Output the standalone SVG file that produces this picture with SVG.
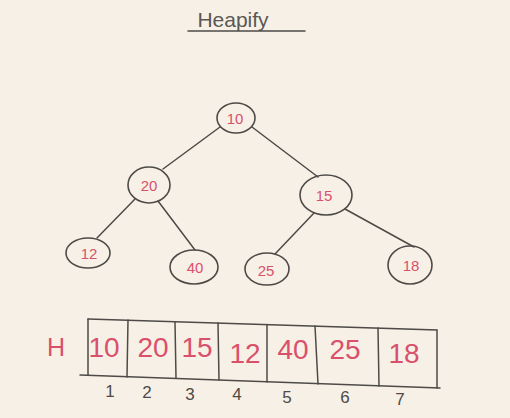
<svg xmlns="http://www.w3.org/2000/svg" width="510" height="418" viewBox="0 0 510 418">
<style>
.ln{stroke:#4d4a47;stroke-width:1.5;fill:none;stroke-linecap:round}
.nd{stroke:#4d4a47;stroke-width:1.6;fill:none}
.v{font-family:"Liberation Sans",Arial,sans-serif;fill:#d9506c;text-anchor:middle}
.t{font-size:15px}
.c{font-size:28px}
.i{font-family:"Liberation Sans",Arial,sans-serif;fill:#4d4a47;font-size:17px;text-anchor:middle}
</style>
<rect width="510" height="418" fill="#f7f0e6"/>
<g id="title">
<text x="233" y="27" font-family="Liberation Sans,Arial,sans-serif" font-size="21" fill="#5a5754" text-anchor="middle">Heapify</text>
<path class="ln" d="M188 31 L305 31"/>
</g>
<g id="connectors">
<path class="ln" d="M220 127 L163 169"/>
<path class="ln" d="M252 127 L318 177"/>
<path class="ln" d="M135 199 L97 238"/>
<path class="ln" d="M158 201 L195 250"/>
<path class="ln" d="M314 213 L275 254"/>
<path class="ln" d="M345 209 L414 247"/>
</g>
<g id="n10"><ellipse class="nd" cx="236" cy="118" rx="19" ry="15"/><text class="v t" x="235" y="124">10</text></g>
<g id="n20"><ellipse class="nd" cx="149" cy="185" rx="21" ry="18"/><text class="v t" x="149" y="191">20</text></g>
<g id="n15"><ellipse class="nd" cx="326" cy="195" rx="26" ry="20"/><text class="v t" x="324" y="201">15</text></g>
<g id="n12"><ellipse class="nd" cx="88" cy="253" rx="22" ry="15"/><text class="v t" x="89" y="259">12</text></g>
<g id="n40"><ellipse class="nd" cx="194" cy="267" rx="24" ry="17"/><text class="v t" x="195" y="273">40</text></g>
<g id="n25"><ellipse class="nd" cx="267" cy="269" rx="22" ry="16"/><text class="v t" x="266" y="276">25</text></g>
<g id="n18"><ellipse class="nd" cx="410" cy="265" rx="22" ry="19"/><text class="v t" x="411" y="271">18</text></g>
<g id="array">
<text class="v" x="56" y="356" font-size="25">H</text>
<path class="ln" d="M88 319 L437 330 L437 388"/>
<path class="ln" d="M80 375 L440 388"/>
<path class="ln" d="M88 319 L88 375"/>
<path class="ln" d="M128 320 L127 377"/>
<path class="ln" d="M175 322 L176 378"/>
<path class="ln" d="M218 323 L219 380"/>
<path class="ln" d="M267 325 L267 382"/>
<path class="ln" d="M315 326 L318 384"/>
<path class="ln" d="M378 328 L379 386"/>
<text class="v c" x="104" y="357">10</text>
<text class="v c" x="153" y="357">20</text>
<text class="v c" x="197" y="357">15</text>
<text class="v c" x="245" y="363">12</text>
<text class="v c" x="293" y="359">40</text>
<text class="v c" x="345" y="359">25</text>
<text class="v c" x="404" y="363">18</text>
<text class="i" x="110" y="397">1</text>
<text class="i" x="147" y="398">2</text>
<text class="i" x="190" y="400">3</text>
<text class="i" x="237" y="400">4</text>
<text class="i" x="287" y="403">5</text>
<text class="i" x="345" y="403">6</text>
<text class="i" x="400" y="405">7</text>
</g>
</svg>
